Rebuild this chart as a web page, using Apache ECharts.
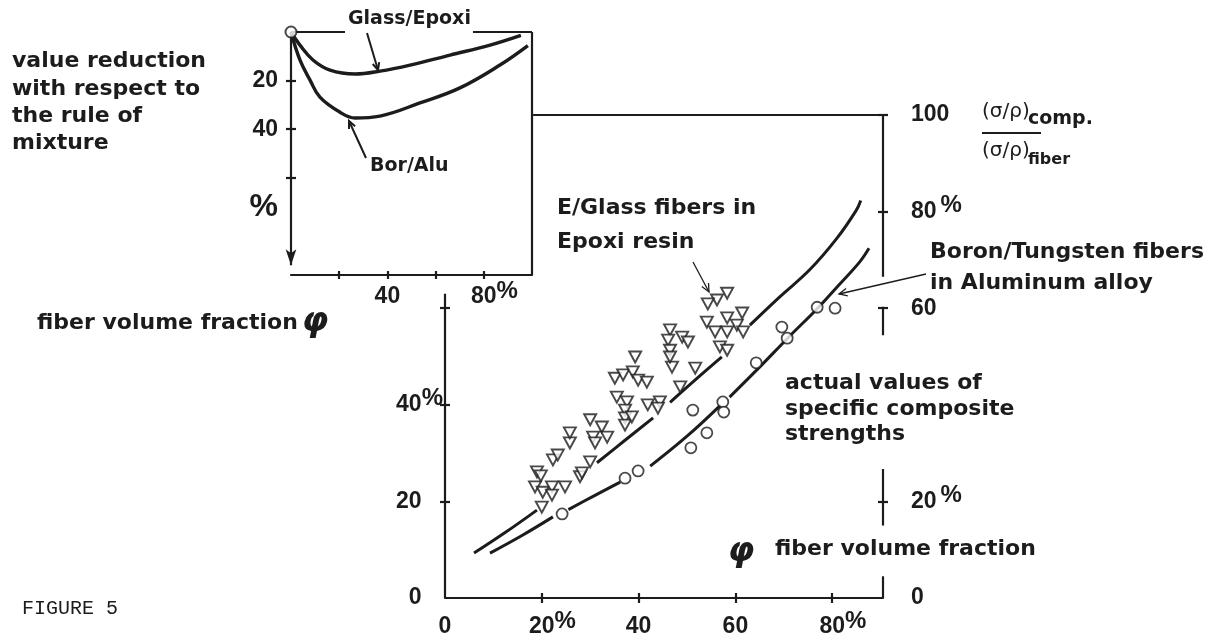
<!DOCTYPE html>
<html><head><meta charset="utf-8">
<script src="https://cdn.jsdelivr.net/npm/echarts@6/dist/echarts.min.js"></script>
<style>html,body{margin:0;padding:0;background:#fff;}#c{width:1219px;height:641px;}</style>
</head><body><div id="c"></div>
<script>
// ---------- tick values and labels ----------
const mainXTicks = [20, 40, 60, 80];
const mainXLabelValues = [0, 20, 40, 60, 80];
const mainXLabels = ['0', '20%', '40', '60', '80%'];
const mainLeftTicks = [20, 40, 60];
const mainLeftLabelValues = [0, 20, 40];
const mainLeftLabels = ['0', '20', '40%'];
const mainRightTicks = [20, 60, 80, 100];
const mainRightLabelValues = [0, 20, 60, 80, 100];
const mainRightLabels = ['0', '20%', '60', '80%', '100'];
const insetXTicks = [20, 40, 60, 80];
const insetXLabelValues = [40, 80];
const insetXLabels = ['40', '80%'];
const insetYTicks = [20, 40, 60];
const insetYLabelValues = [20, 40, 72];
const insetYLabels = ['20', '40', '%'];

// ---------- data: main chart (fiber volume fraction %, strength ratio %) ----------
const glassEpoxyPoints = [
  [19.0,26.1],[19.8,25.3],[18.6,23.0],[20.2,21.9],[22.1,23.0],[22.1,21.3],[20.0,18.8],
  [22.3,28.6],[23.3,29.6],[25.8,32.1],[25.8,34.2],[24.8,23.0],[27.9,25.1],[28.3,25.9],
  [30.0,28.2],[30.0,36.9],[30.6,33.3],[31.0,32.1],[32.4,35.4],[33.5,33.3],
  [35.1,45.5],[36.8,46.2],[38.8,46.8],[39.9,45.1],[41.7,44.7],[35.5,41.6],[37.6,40.6],
  [37.2,38.9],[37.2,37.3],[37.2,35.8],[38.6,37.5],[41.9,40.0],[44.4,40.6],[44.0,39.3],
  [39.3,49.9],[46.9,47.8],[48.6,43.7],[51.7,47.6],
  [46.5,55.5],[46.1,53.4],[49.0,54.0],[50.2,53.0],[46.5,51.3],[46.5,49.9],
  [58.3,63.1],[56.2,61.7],[54.3,60.9],[54.1,57.1],[55.8,55.1],[58.3,58.0],[61.4,59.0],
  [60.3,56.5],[58.3,55.1],[61.6,55.1],[56.8,52.0],[58.3,51.3]
];
const boronAluPoints = [
  [24.2,17.4],[37.2,24.8],[39.9,26.3],[50.8,31.1],[54.1,34.2],[51.2,38.9],[57.4,40.6],
  [57.6,38.5],[64.3,48.7],[69.6,56.1],[70.7,53.8],[76.9,60.2],[80.6,60.0]
];
const upperCurveSegments = [
  [[6.0,9.3],[12.5,13.6],[19.0,18.2]],
  [[31.4,28.0],[37.0,32.5],[43.0,37.3]],
  [[46.5,40.5],[52.0,45.4],[57.2,49.9]],
  [[63.0,56.5],[69.0,62.2],[75.4,68.0],[81.0,74.5],[85.0,80.3],[85.9,82.3]]
];
const lowerCurveSegments = [
  [[9.3,9.3],[16.0,13.0],[22.3,16.8]],
  [[25.5,18.3],[30.5,21.0],[36.2,24.0]],
  [[42.4,27.3],[50.0,33.5],[57.0,40.0]],
  [[58.8,41.6],[65.0,47.8],[71.0,54.0],[77.0,60.0],[81.2,64.6],[85.7,69.6],[87.6,72.4]]
];
// ---------- data: inset (fiber volume fraction %, value reduction %) ----------
const insetGlassCurve = [
  [0,0],[3.7,5.4],[9.1,11.5],[16.2,15.7],[26.6,17.3],[36.9,16.1],[49.4,13.6],[66,9.5],[82.6,5.4],[95.4,1.4]
];
const insetBorAluCurve = [
  [0,0],[3.7,11.5],[7.9,19.8],[12,26.8],[20.3,33],[26.6,35.4],[36.9,34.6],[53.5,29.2],[70.1,23],[86.7,13.6],[98.3,5.6]
];
const insetOrigin = [[0, 0]];

// ---------- frame segments (axis value coordinates) ----------
const mainFrameSegments = [
  [[0,0],[0,63]],
  [[18.2,100],[90.5,100]],
  [[90.5,100],[90.5,66.5]],
  [[90.5,60.3],[90.5,54.4]],
  [[90.5,26.7],[90.5,15.0]],
  [[90.5,0],[90.5,4.5]]
];
const insetFrameSegments = [
  [[0,0],[22.4,0]],
  [[75.5,0],[100,0]],
  [[100,0],[100,100]]
];
const insetYAxisArrow = [[0,0],[0,96]];

const INK = '#1c1c1c';
const chart = echarts.init(document.getElementById('c'));

const NUM = {fontFamily:'Liberation Sans', fontWeight:'bold', fontSize:23, color:INK, lineHeight:28};
const PCT = {fontFamily:'Liberation Sans', fontWeight:'bold', fontSize:24, color:INK, lineHeight:16, padding:[0,0,12,0]};
const rich = {
  n: NUM,
  p: PCT,
  pg: Object.assign({}, PCT, {padding:[0,0,12,4]}),
  s: Object.assign({}, PCT, {color:'rgba(0,0,0,0)'}),
  big: {fontFamily:'Liberation Sans', fontWeight:'bold', fontSize:32, color:INK, lineHeight:30}
};
function fmt(values, labels, mode) {
  return function (v) {
    const i = values.findIndex(x => Math.abs(x - v) < 1e-6);
    if (i < 0) return '';
    const t = labels[i];
    if (t === '%') return '{big|%}';
    if (t.endsWith('%')) {
      const num = t.slice(0, -1);
      if (mode === 'center') return '{s|%}{n|' + num + '}{p|%}';
      if (mode === 'gap') return '{n|' + num + '}{pg|%}';
      return '{n|' + num + '}{p|%}';
    }
    if (mode === 'rightpad') return '{n|' + t + '}{s|%}';
    return '{n|' + t + '}';
  };
}
const lineSt = {color: INK, width: 2.2};
function axisBase(extra) {
  return Object.assign({
    type: 'value',
    splitLine: {show: false},
    axisLine: {show: false, onZero: false, lineStyle: lineSt},
    axisLabel: {show: false},
  }, extra);
}
function frameMarkLine(segments) {
  return {
    silent: true, symbol: 'none', label: {show: false}, emphasis: {disabled: true},
    lineStyle: {color: INK, width: 2.2, type: 'solid'},
    data: segments.map(s => [{coord: s[0]}, {coord: s[1]}])
  };
}

const series = [];
upperCurveSegments.concat(lowerCurveSegments).forEach(seg => {
  series.push({type:'line', xAxisIndex:0, yAxisIndex:0, data:seg, smooth:0.4, symbol:'none',
    lineStyle:{color:INK, width:3}, silent:true, z:2});
});
series.push({type:'scatter', xAxisIndex:0, yAxisIndex:0, data:glassEpoxyPoints,
  symbol:'triangle', symbolSize:[12,11], symbolRotate:180,
  itemStyle:{color:'#fff', borderColor:INK, borderWidth:1.9}, silent:true, z:4});
series.push({type:'scatter', xAxisIndex:0, yAxisIndex:0, data:boronAluPoints,
  symbol:'circle', symbolSize:11,
  itemStyle:{color:'#fff', borderColor:INK, borderWidth:1.8}, silent:true, z:4,
  markLine: frameMarkLine(mainFrameSegments)});
series.push({type:'line', xAxisIndex:2, yAxisIndex:4, data:insetGlassCurve, smooth:0.4, symbol:'none',
  lineStyle:{color:INK, width:3.4}, silent:true, z:2,
  markLine: frameMarkLine(insetFrameSegments)});
series.push({type:'line', xAxisIndex:2, yAxisIndex:4, data:insetBorAluCurve, smooth:0.4, symbol:'none',
  lineStyle:{color:INK, width:3.4}, silent:true, z:2,
  markLine: {
    silent:true, label:{show:false}, emphasis:{disabled:true},
    lineStyle:{color:INK, width:2.2, type:'solid'},
    data: [[{coord: insetYAxisArrow[0], symbol:'none'}, {coord: insetYAxisArrow[1], symbol:'arrow', symbolSize:[8,16]}]]
  }});
series.push({type:'scatter', xAxisIndex:2, yAxisIndex:4, data:insetOrigin, symbol:'circle', symbolSize:11,
  itemStyle:{color:'#fff', borderColor:INK, borderWidth:2}, silent:true, z:6});

// ---------- annotation text / leaders ----------
const DESC = 'bold 22px "DejaVu Sans"';
const SMALL = 'bold 19px "DejaVu Sans"';
function T(text, x, y, font, align) {
  return {type:'text', x:x, y:y, silent:true, z:20,
    style:{text:text, font:font || DESC, fill:INK, textAlign:align || 'left', textVerticalAlign:'middle'}};
}
function L(points, w) {
  return {type:'polyline', silent:true, z:20, shape:{points:points}, style:{stroke:INK, lineWidth:w || 1.4, fill:null}};
}
const graphics = [
  T('value reduction', 12, 61), T('with respect to', 12, 89.5), T('the rule of', 12, 116), T('mixture', 12, 143),
  T('Glass/Epoxi', 348, 19, SMALL), T('Bor/Alu', 370, 166, SMALL),
  T('fiber volume fraction', 37, 323), T('φ', 315, 322, 'bold italic 34px "DejaVu Sans"', 'center'),
  T('E/Glass fibers in', 557, 208), T('Epoxi resin', 557, 242),
  T('Boron/Tungsten fibers', 930, 252), T('in Aluminum alloy', 930, 283),
  T('actual values of', 785, 383), T('specific composite', 785, 409), T('strengths', 785, 434),
  T('φ', 741, 552, 'bold italic 34px "DejaVu Sans"', 'center'), T('fiber volume fraction', 775, 549),
  T('FIGURE 5', 22, 609, '20px "Liberation Mono"'),
  T('(σ/ρ)', 982, 112, '20px "DejaVu Sans"'), T('comp.', 1028, 119, 'bold 19px "DejaVu Sans"'),
  T('(σ/ρ)', 982, 151, '20px "DejaVu Sans"'), T('fiber', 1028, 160, 'bold 16px "DejaVu Sans"'),
  L([[982,133],[1041,133]], 2),
  // leaders
  L([[693,262],[709,292]], 1.3), L([[708.5,283],[709,292],[701.8,286.6]], 1.3),
  L([[926,274],[839,294]], 1.3), L([[847.8,295.9],[839,294],[846.1,288.5]], 1.3),
  L([[367,33],[378,70]], 2), L([[379.2,62.1],[378,70],[372.7,64]], 2),
  L([[366,158],[349,121]], 2), L([[349,129],[349,121],[355.1,126.2]], 2)
];

chart.setOption({
  animation: false,
  backgroundColor: '#fff',
  grid: [
    {left:445, top:115, width:438, height:483, outerBoundsMode:'none', containLabel:false},
    {left:291, top:32, width:241, height:243, outerBoundsMode:'none', containLabel:false}
  ],
  xAxis: [
    axisBase({gridIndex:0, min:0, max:90.5, position:'bottom',
      axisLine:{show:true, onZero:false, lineStyle:lineSt},
      axisTick:{show:true, customValues:mainXTicks, length:5, lineStyle:lineSt},
      axisLabel:{show:true, customValues:mainXLabelValues, formatter:fmt(mainXLabelValues, mainXLabels, 'center'), margin:15, rich:rich}}),
    axisBase({gridIndex:0, min:0, max:90.5, position:'bottom',
      axisTick:{show:true, inside:true, customValues:mainXTicks, length:5, lineStyle:lineSt}}),
    axisBase({gridIndex:1, min:0, max:100, position:'bottom',
      axisLine:{show:true, onZero:false, lineStyle:lineSt},
      axisTick:{show:true, customValues:insetXTicks, length:4, lineStyle:lineSt},
      axisLabel:{show:true, customValues:insetXLabelValues, formatter:fmt(insetXLabelValues, insetXLabels, 'center'), margin:8, rich:rich}}),
    axisBase({gridIndex:1, min:0, max:100, position:'bottom',
      axisTick:{show:true, inside:true, customValues:insetXTicks, length:4, lineStyle:lineSt}})
  ],
  yAxis: [
    axisBase({gridIndex:0, min:0, max:100, position:'left',
      axisTick:{show:true, customValues:mainLeftTicks, length:5, lineStyle:lineSt},
      axisLabel:{show:true, customValues:mainLeftLabelValues, formatter:fmt(mainLeftLabelValues, mainLeftLabels, 'rightpad'), margin:2, rich:rich}}),
    axisBase({gridIndex:0, min:0, max:100, position:'left',
      axisTick:{show:true, inside:true, customValues:mainLeftTicks, length:5, lineStyle:lineSt}}),
    axisBase({gridIndex:0, min:0, max:100, position:'right',
      axisTick:{show:true, customValues:mainRightTicks, length:5, lineStyle:lineSt},
      axisLabel:{show:true, customValues:mainRightLabelValues, formatter:fmt(mainRightLabelValues, mainRightLabels, 'gap'), margin:28, rich:rich}}),
    axisBase({gridIndex:0, min:0, max:100, position:'right',
      axisTick:{show:true, inside:true, customValues:mainRightTicks, length:5, lineStyle:lineSt}}),
    axisBase({gridIndex:1, min:0, max:100, inverse:true, position:'left',
      axisTick:{show:true, customValues:insetYTicks, length:5, lineStyle:lineSt},
      axisLabel:{show:true, customValues:insetYLabelValues, formatter:fmt(insetYLabelValues, insetYLabels, 'plain'), margin:13, rich:rich}}),
    axisBase({gridIndex:1, min:0, max:100, inverse:true, position:'left',
      axisTick:{show:true, inside:true, customValues:insetYTicks, length:5, lineStyle:lineSt}})
  ],
  series: series,
  graphic: graphics
});
</script>
</body></html>
